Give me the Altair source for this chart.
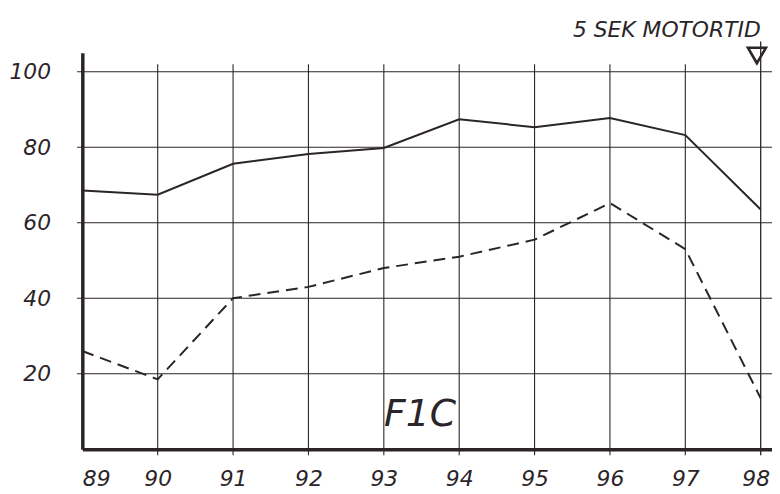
import altair as alt
import pandas as pd

years = [89, 90, 91, 92, 93, 94, 95, 96, 97, 98]
solid_vals = [68.5, 67.4, 75.6, 78.2, 79.8, 87.4, 85.3, 87.7, 83.2, 63.5]
dashed_vals = [26.0, 18.5, 40.0, 43.0, 48.0, 51.0, 55.5, 65.2, 53.0, 13.5]
y_ticks = [20, 40, 60, 80, 100]
x_grid = [90, 91, 92, 93, 94, 95, 96, 97]

FONT = "DejaVu Sans"
INK = "#2b2428"

xs = alt.Scale(domain=[89, 98.15], nice=False, zero=False)
ys = alt.Scale(domain=[0, 105], nice=False, zero=False)

df = pd.DataFrame({"year": years, "solid": solid_vals, "dashed": dashed_vals})
vg = pd.DataFrame({"x": x_grid, "y0": -1.6, "y1": 102})
v98 = pd.DataFrame({"x": [98], "y0": [-1.6], "y1": [108]})
hg = pd.DataFrame({"y": y_ticks, "x0": 88.93, "x1": 98.15})

xaxis = alt.Axis(values=years, format="d", grid=False, ticks=False,
                 domainWidth=3.5, domainColor=INK, labelFont=FONT,
                 labelFontStyle="italic", labelFontSize=22, labelColor=INK,
                 labelPadding=20, title=None,
                 labelOffset=alt.expr("datum.value == 98 ? -5 : 0"))
yaxis = alt.Axis(values=y_ticks, grid=False, ticks=False, domainWidth=3.5,
                 domainColor=INK, labelFont=FONT, labelFontStyle="italic",
                 labelFontSize=22, labelColor=INK, labelPadding=32, title=None)

vrules = alt.Chart(vg).mark_rule(color=INK, strokeWidth=1.1).encode(
    x=alt.X("x:Q", scale=xs, axis=xaxis),
    y=alt.Y("y0:Q", scale=ys, axis=yaxis),
    y2="y1:Q",
)
vrule98 = alt.Chart(v98).mark_rule(color=INK, strokeWidth=1.3).encode(
    x=alt.X("x:Q", scale=xs), y=alt.Y("y0:Q", scale=ys), y2="y1:Q"
)
hrules = alt.Chart(hg).mark_rule(color=INK, strokeWidth=1.1).encode(
    y=alt.Y("y:Q", scale=ys), x=alt.X("x0:Q", scale=xs), x2="x1:Q"
)

solid = alt.Chart(df).mark_line(color=INK, strokeWidth=2).encode(
    x=alt.X("year:Q", scale=xs), y=alt.Y("solid:Q", scale=ys)
)
dashed = alt.Chart(df).mark_line(color=INK, strokeWidth=2, strokeDash=[12, 7]).encode(
    x=alt.X("year:Q", scale=xs), y=alt.Y("dashed:Q", scale=ys)
)

symbol = alt.Chart(pd.DataFrame({"a": [0]})).mark_point(
    shape="triangle-down", filled=False, color=INK, strokeWidth=2.6, size=330,
    opacity=1
).encode(x=alt.datum(97.95, scale=xs), y=alt.datum(104.3, scale=ys))

title_txt = alt.Chart(pd.DataFrame({"a": [0]})).mark_text(
    text="5  SEK  MOTORTID", font=FONT, fontStyle="italic", fontSize=22,
    color=INK, align="right", baseline="middle"
).encode(x=alt.datum(98.0, scale=xs), y=alt.datum(111, scale=ys))

f1c = alt.Chart(pd.DataFrame({"a": [0]})).mark_text(
    text="F1C", font=FONT, fontStyle="italic", fontWeight=200, fontSize=38,
    color=INK, align="center", baseline="middle"
).encode(x=alt.datum(93.48, scale=xs), y=alt.datum(9.0, scale=ys))

chart = alt.layer(vrules, vrule98, hrules, solid, dashed, symbol, title_txt, f1c).properties(
    width=696, height=400,
    background="white",
    autosize=alt.AutoSizeParams(type="none"),
    padding={"left": 75, "top": 43, "right": 0, "bottom": 43},
).configure_view(strokeWidth=0, stroke="transparent")

chart.save("out.html", embed_options={"renderer": "svg", "actions": False})
